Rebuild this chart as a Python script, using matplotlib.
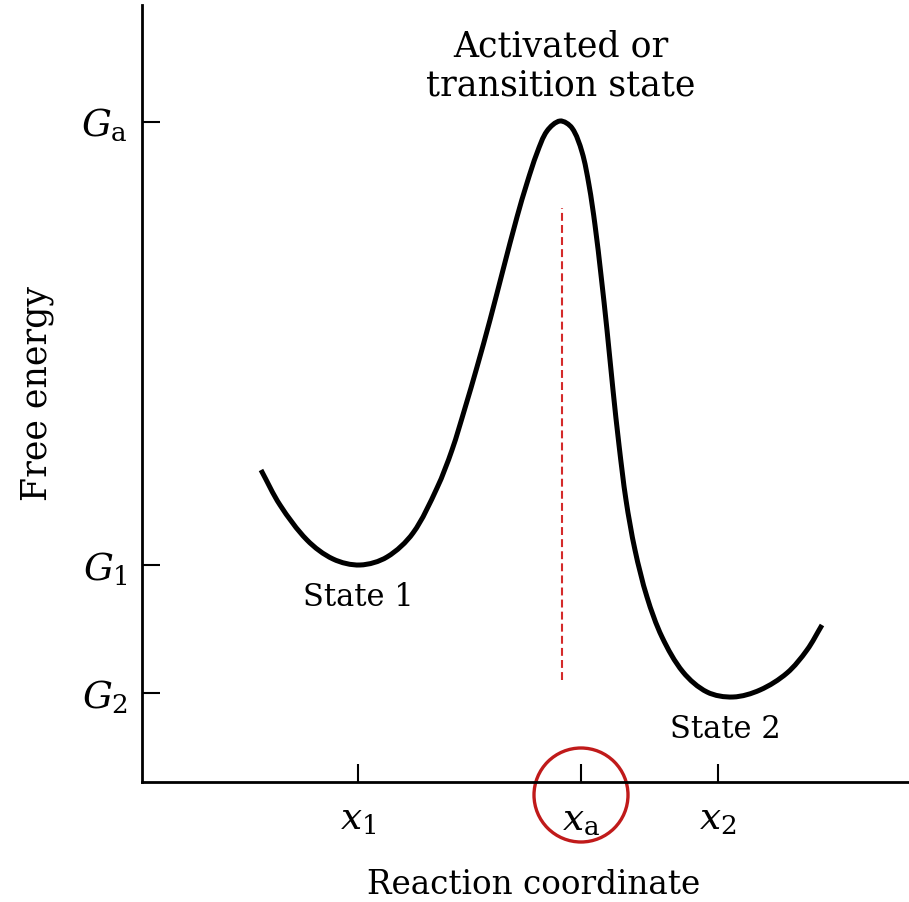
import numpy as np
import matplotlib.pyplot as plt
from matplotlib.path import Path
from matplotlib.patches import PathPatch, Circle

plt.rcParams['font.family'] = 'DejaVu Serif'
plt.rcParams['mathtext.fontset'] = 'dejavuserif'

# free energy profile (arbitrary units)
coord = [1.19, 1.38, 1.65, 1.91, 2.18, 2.45, 2.71, 2.95, 3.10, 3.23, 3.35,
         3.48, 3.61, 3.75, 3.85, 3.95, 4.05, 4.18, 4.30, 4.40, 4.47, 4.53,
         4.59, 4.65, 4.71, 4.77, 4.84, 4.93, 5.05, 5.20, 5.41, 5.65, 5.91,
         6.18, 6.45, 6.65, 6.80]
energy = [3.12, 2.77, 2.42, 2.23, 2.17, 2.25, 2.49, 2.94, 3.32, 3.74, 4.15,
          4.62, 5.12, 5.65, 5.99, 6.29, 6.51, 6.61, 6.54, 6.30, 5.97, 5.57,
          5.07, 4.52, 3.92, 3.37, 2.82, 2.32, 1.85, 1.45, 1.10, 0.90, 0.85,
          0.92, 1.09, 1.32, 1.57]

ytick_vals = [6.60, 2.17, 0.89]
ytick_labels = [r'$G_{\mathrm{a}}$', r'$G_1$', r'$G_2$']
xtick_vals = [2.16, 4.39, 5.76]
xtick_labels = [r'$x_1$', r'$x_{\mathrm{a}}$', r'$x_2$']

peak_x = 4.20
guide_y = (1.02, 5.74)


def smooth_path(xs, ys):
    # chord-length Hermite curve through the read points
    p = np.column_stack([xs, ys])
    n = len(p)
    d = np.linalg.norm(np.diff(p, axis=0), axis=1)
    m = np.zeros_like(p)
    m[0] = (p[1] - p[0]) / d[0]
    m[-1] = (p[-1] - p[-2]) / d[-1]
    for i in range(1, n - 1):
        m[i] = (p[i + 1] - p[i - 1]) / (d[i - 1] + d[i])
    verts = [p[0]]
    codes = [Path.MOVETO]
    for i in range(n - 1):
        verts += [p[i] + m[i] * d[i] / 3, p[i + 1] - m[i + 1] * d[i] / 3, p[i + 1]]
        codes += [Path.CURVE4] * 3
    return Path(verts, codes)


fig = plt.figure(figsize=(9.09, 9.02), dpi=100)
ax = fig.add_axes([142 / 909, 120 / 902, 767 / 909, 777 / 902])
ax.set_xlim(0, 7.67)
ax.set_ylim(0, 7.77)

ax.add_patch(PathPatch(smooth_path(coord, energy), fill=False, lw=3.6,
                       edgecolor='black', capstyle='butt'))

ax.plot([peak_x, peak_x], guide_y, color='#d42a2a', lw=1.5, ls=(0, (3.8, 2.0)))

for s in ['top', 'right']:
    ax.spines[s].set_visible(False)
for s in ['left', 'bottom']:
    ax.spines[s].set_linewidth(2.0)

ax.set_yticks(ytick_vals)
ax.set_yticklabels(ytick_labels, fontsize=27)
ax.set_xticks(xtick_vals)
ax.set_xticklabels(xtick_labels, fontsize=27)
ax.tick_params(direction='in', length=13, width=1.5, pad=10)
ax.tick_params(axis='x', pad=14)

ax.set_ylabel('Free energy', fontsize=25, labelpad=20)
ax.set_xlabel('Reaction coordinate', fontsize=23.5, labelpad=23)
ax.xaxis.label.set_x(0.511)

ax.text(2.16, 1.84, 'State 1', fontsize=22, ha='center', va='center')
ax.text(5.83, 0.52, 'State 2', fontsize=22, ha='center', va='center')
ax.text(4.19, 7.16, 'Activated or\ntransition state', fontsize=25,
        ha='center', va='center', linespacing=1.2)

ax.add_patch(Circle((4.39, -0.13), 0.47, fill=False, edgecolor='#c01a1a',
                    lw=2.4, clip_on=False))

fig.savefig('out.png', dpi=100)
